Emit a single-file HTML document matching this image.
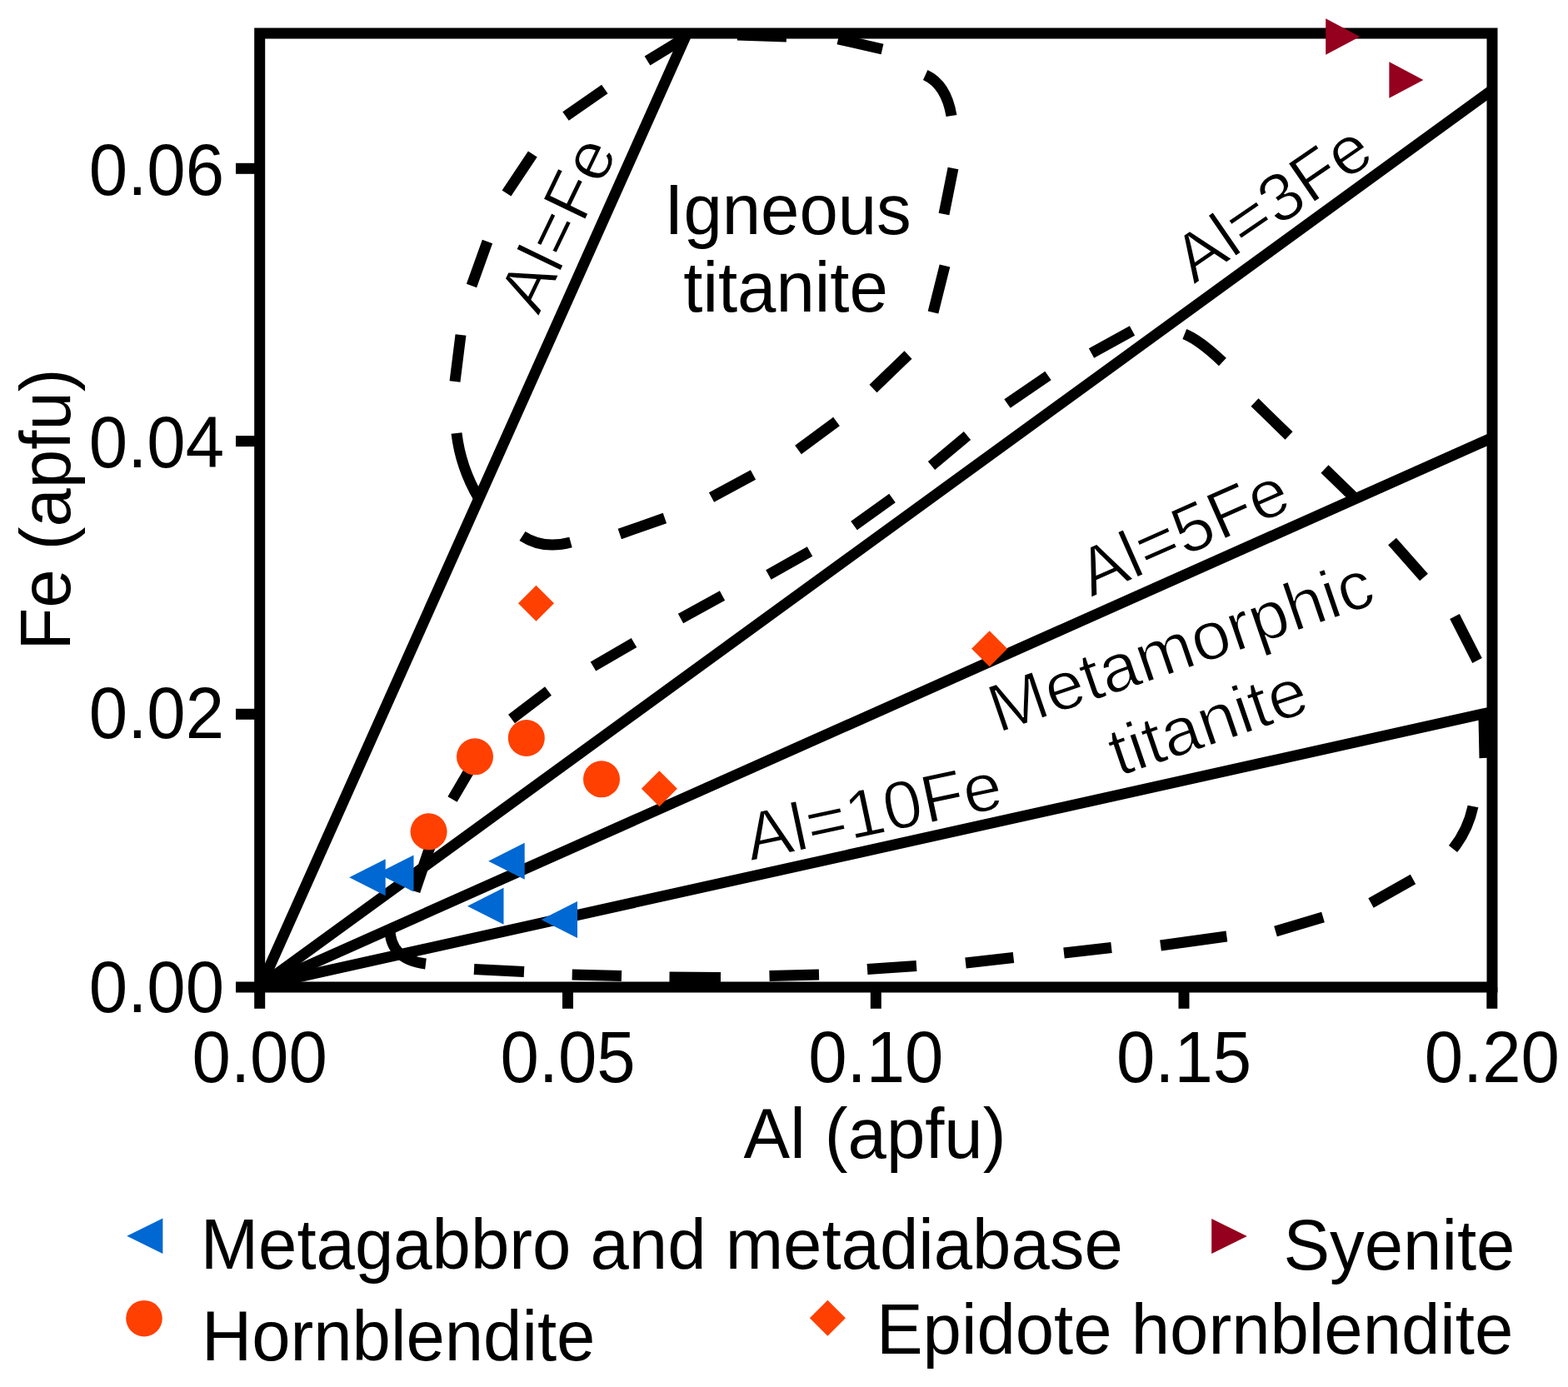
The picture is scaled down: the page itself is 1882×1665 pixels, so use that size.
<!DOCTYPE html>
<html><head><meta charset="utf-8"><title>Al vs Fe (apfu) titanite discrimination plot</title>
<style>
html,body{margin:0;padding:0;background:#fff;}
body{width:1882px;height:1665px;overflow:hidden;}
svg{display:block;}
text{font-family:"Liberation Sans", Arial, Helvetica, sans-serif;font-size:84px;fill:#000;}
text.thin{stroke:#fff;stroke-width:1.3px;}
</style></head><body>
<svg width="1882" height="1665" viewBox="0 0 1882 1665">
<rect width="1882" height="1665" fill="#fff"/>
<rect x="311.7" y="40.0" width="1479.3" height="1145.0" fill="none" stroke="#000" stroke-width="13.0" stroke-linejoin="miter"/>
<line x1="311.7" y1="1185.0" x2="311.7" y2="1210.8" stroke="#000" stroke-width="13.0"/>
<line x1="681.5" y1="1185.0" x2="681.5" y2="1210.8" stroke="#000" stroke-width="13.0"/>
<line x1="1051.3" y1="1185.0" x2="1051.3" y2="1210.8" stroke="#000" stroke-width="13.0"/>
<line x1="1421.0" y1="1185.0" x2="1421.0" y2="1210.8" stroke="#000" stroke-width="13.0"/>
<line x1="1790.8" y1="1185.0" x2="1790.8" y2="1210.8" stroke="#000" stroke-width="13.0"/>
<line x1="283" y1="1185.0" x2="311.7" y2="1185.0" stroke="#000" stroke-width="13.0"/>
<line x1="283" y1="857.3" x2="311.7" y2="857.3" stroke="#000" stroke-width="13.0"/>
<line x1="283" y1="529.6" x2="311.7" y2="529.6" stroke="#000" stroke-width="13.0"/>
<line x1="283" y1="202.3" x2="311.7" y2="202.3" stroke="#000" stroke-width="13.0"/>
<line x1="312.5" y1="1185.0" x2="824.5" y2="40.0" stroke="#000" stroke-width="13.0"/>
<line x1="312.0" y1="1183.8" x2="1791.0" y2="108.0" stroke="#000" stroke-width="13.0"/>
<line x1="311.7" y1="1185.0" x2="1791.0" y2="525.5" stroke="#000" stroke-width="13.0"/>
<line x1="312.0" y1="1183.2" x2="1791.0" y2="854.5" stroke="#000" stroke-width="13.0"/>
<path d="M818 48L777 73M725.8 107L679 139.5M639.3 185L608 232M585 290L566 343M553 402L546 458M548 520Q552.8 561.0 574.5 598M627 643.5Q652.0 659.8 685 651M743.8 641L797.9 622M854 597L904 570M958 540L1004 506M1048 466.5L1090 426M1120 375L1134 319M1133 257L1144 202M1142 139Q1135.7 101.5 1110.7 90M1059 59L1006 46.8M944 44L885 42M1421.8 401Q1439.8 408.2 1467.4 434.5M1506 483L1547 523M1590 563L1626 598M1671 650L1709 693M1746 740L1773 793M1781 862L1782 910M1768 968Q1762.0 996.5 1744 1019M1696 1055.5L1645.5 1084M1588 1101L1531 1118M1472.4 1124L1393 1135M1334 1137.5L1277 1144M1216.5 1149.5L1159 1156M1100 1159.5L1041 1163.5M983 1170L923.5 1171.5M865 1173.5L803.5 1173M746 1171.5L686.7 1170M629 1166.5L569 1163.5M511 1157Q466.5 1151.5 468 1112M498 1070L520 1005M543 959.5L575 905M614 863L658 829.5M712 800L761 771.5M817 742.5L867 715M922.4 690L972 662M1025 631L1071 598M1118 559L1161 523M1209 484.5L1258 451M1310 424L1359 397" fill="none" stroke="#000" stroke-width="13.0" stroke-linecap="butt"/>
<circle cx="514.6" cy="998.3" r="22" fill="#ff4000"/>
<circle cx="570" cy="908.3" r="22" fill="#ff4000"/>
<circle cx="631.8" cy="886" r="22" fill="#ff4000"/>
<circle cx="722" cy="935.3" r="22" fill="#ff4000"/>
<path d="M643.5 702.8L665.0 724.3L643.5 745.8L622.0 724.3Z" fill="#ff4000"/>
<path d="M791.4 925.2L812.9 946.7L791.4 968.2L769.9 946.7Z" fill="#ff4000"/>
<path d="M1187.6 757.3L1209.1 778.8L1187.6 800.3L1166.1 778.8Z" fill="#ff4000"/>
<path d="M453 1048.5L496.5 1026.5L496.5 1070.5Z" fill="#0068d2"/>
<path d="M419.2 1053.3L462.7 1031.3L462.7 1075.3Z" fill="#0068d2"/>
<path d="M586.2 1033.7L629.7 1011.7L629.7 1055.7Z" fill="#0068d2"/>
<path d="M561 1087.8L604.5 1065.8L604.5 1109.8Z" fill="#0068d2"/>
<path d="M649.5 1104L693.0 1082.0L693.0 1126.0Z" fill="#0068d2"/>
<path d="M1591.2 22.2L1632.2 44.0L1591.2 65.8Z" fill="#94001e"/>
<path d="M1667.4 74.2L1708.4 95.9L1667.4 117.7Z" fill="#94001e"/>
<text transform="translate(269 1215.2) scale(0.992 1.04)" text-anchor="end">0.00</text>
<text transform="translate(269 886.4) scale(0.992 1.04)" text-anchor="end">0.02</text>
<text transform="translate(269 560.6) scale(0.992 1.04)" text-anchor="end">0.04</text>
<text transform="translate(269 233.6) scale(0.992 1.04)" text-anchor="end">0.06</text>
<text transform="translate(311.7 1299) scale(0.992 1.04)" text-anchor="middle">0.00</text>
<text transform="translate(681.5 1299) scale(0.992 1.04)" text-anchor="middle">0.05</text>
<text transform="translate(1051.3 1299) scale(0.992 1.04)" text-anchor="middle">0.10</text>
<text transform="translate(1421.0 1299) scale(0.992 1.04)" text-anchor="middle">0.15</text>
<text transform="translate(1790.8 1299) scale(0.992 1.04)" text-anchor="middle">0.20</text>
<text transform="translate(1050 1390) scale(0.992 1.01)" text-anchor="middle">Al (apfu)</text>
<text transform="translate(84 611.5) rotate(-90) scale(0.992 1.01)" text-anchor="middle">Fe (apfu)</text>
<text transform="translate(945.5 281.3) scale(0.992 1.01)" text-anchor="middle">Igneous</text>
<text transform="translate(943 374.3) scale(0.992 1.01)" text-anchor="middle">titanite</text>
<text transform="translate(646.5 380) rotate(-64.3) scale(0.992 0.97)" class="thin">Al=Fe</text>
<text transform="translate(1433 342) rotate(-34.5) scale(0.992 0.97)" class="thin">Al=3Fe</text>
<text transform="translate(1309.5 717.5) rotate(-23.8) scale(0.992 0.97)" class="thin">Al=5Fe</text>
<text transform="translate(1198 880) rotate(-18.9) scale(0.992 0.97)" class="thin">Metamorphic</text>
<text transform="translate(1342.5 932.5) rotate(-18.9) scale(0.992 0.97)" class="thin">titanite</text>
<text transform="translate(901 1033.5) rotate(-12.0) scale(0.992 0.97)" class="thin">Al=10Fe</text>
<path d="M152.3 1483.8L195.4 1462.6L195.4 1505.0Z" fill="#0068d2"/>
<circle cx="173" cy="1582.7" r="21.8" fill="#ff4000"/>
<path d="M1454.2 1463.0L1496.8 1484.0L1454.2 1505.0Z" fill="#94001e"/>
<path d="M993.4 1560.8L1014.9 1582.3L993.4 1603.8L971.9 1582.3Z" fill="#ff4000"/>
<text transform="translate(240.7 1523) scale(0.992 1.01)">Metagabbro and metadiabase</text>
<text transform="translate(1540.5 1523.5) scale(0.992 1.01)">Syenite</text>
<text transform="translate(242 1633.2) scale(0.992 1.01)">Hornblendite</text>
<text transform="translate(1052 1625) scale(0.992 1.01)">Epidote hornblendite</text>
</svg>
</body></html>
